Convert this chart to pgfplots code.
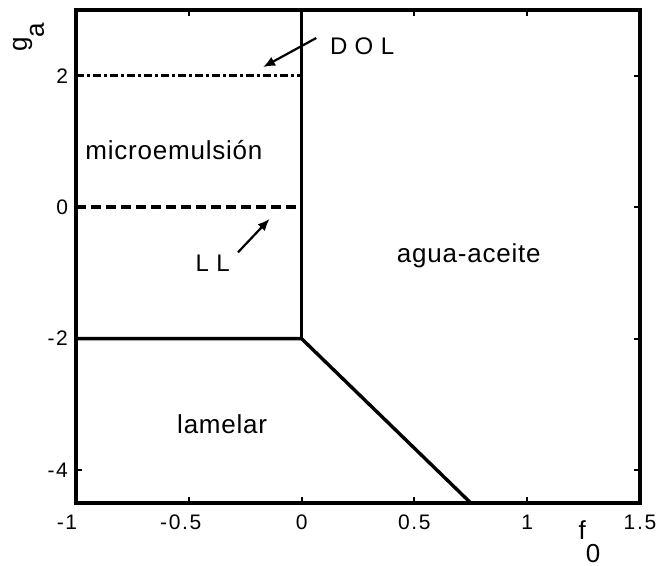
\documentclass[border=0pt]{standalone}
\usepackage{pgfplots}
\pgfplotsset{compat=1.18}
\usepackage{fontspec}
\setmainfont{Liberation Sans}
\newfontfamily\spaced[LetterSpace=3]{Liberation Sans}
\newfontfamily\tickfont[LetterSpace=8]{Liberation Sans}
\usetikzlibrary{arrows.meta}
\begin{document}
\begin{tikzpicture}
\begin{axis}[
  scale only axis,
  width=282pt, height=246.5pt,
  xmin=-1, xmax=1.5, ymin=-4.5, ymax=3,
  xtick={-1,-0.5,0,0.5,1,1.5},
  xticklabels={-1\hspace*{9pt},-0.5\hspace*{8pt},0,0.5,1,1.5},
  ytick={-4,-2,0,2},
  yticklabels={-4,-2,0,2},
  tick label style={font=\fontsize{10.5}{12}\selectfont\tickfont},
  xticklabel style={yshift=-2.5pt},
  yticklabel style={xshift=-0.5pt},
  major tick length=3pt,
  tick style={line width=1pt,black},
  axis line style={line width=1.8pt},
  clip=false,
]
\addplot[black, line width=1.7pt] coordinates {(0,3) (0,-2)};
\addplot[black, line width=1.7pt] coordinates {(-1,-2) (0,-2) (0.75,-4.5)};
\addplot[black, line width=1.7pt, dash pattern=on 5pt off 2.5pt] coordinates {(-1,0) (0,0)};
\addplot[black, line width=1.7pt, dash pattern=on 4pt off 1.5pt on 1.5pt off 1.5pt] coordinates {(-1,2) (0,2)};
\draw[line width=1.1pt, -{Latex[length=6pt,width=5pt]}] (axis cs:0.065,2.574) -- (axis cs:-0.171,2.131);
\draw[line width=1.1pt, -{Latex[length=6pt,width=5pt]}] (axis cs:-0.282,-0.687) -- (axis cs:-0.142,-0.178);
\node[anchor=base, font=\fontsize{13}{15}\selectfont\spaced] at (axis cs:-0.566,0.732) {microemulsión};
\node[anchor=base, font=\fontsize{13}{15}\selectfont\spaced] at (axis cs:0.741,-0.838) {agua-aceite};
\node[anchor=base, font=\fontsize{13}{15}\selectfont\spaced] at (axis cs:-0.352,-3.44) {lamelar};
\node[anchor=base, font=\fontsize{12}{14}\selectfont\spaced] at (axis cs:0.268,2.32) {D O L};
\node[anchor=base, font=\fontsize{12}{14}\selectfont\spaced] at (axis cs:-0.394,-0.984) {L L};
\node[anchor=base west, font=\fontsize{13}{15}\selectfont, inner sep=0pt] at ([yshift=-18pt]axis cs:1.226,-4.5) {f\raisebox{-11.5pt}{0}};
\node[anchor=base west, rotate=90, font=\fontsize{13}{15}\selectfont, inner sep=0pt] at ([xshift=-24.5pt,yshift=-21pt]axis cs:-1,3) {g\raisebox{-8.5pt}{a}};
\end{axis}
\pgfresetboundingbox
\path ([xshift=-38pt,yshift=-31.5pt]current axis.south west) rectangle ([xshift=8.5pt,yshift=5pt]current axis.north east);
\end{tikzpicture}
\end{document}
